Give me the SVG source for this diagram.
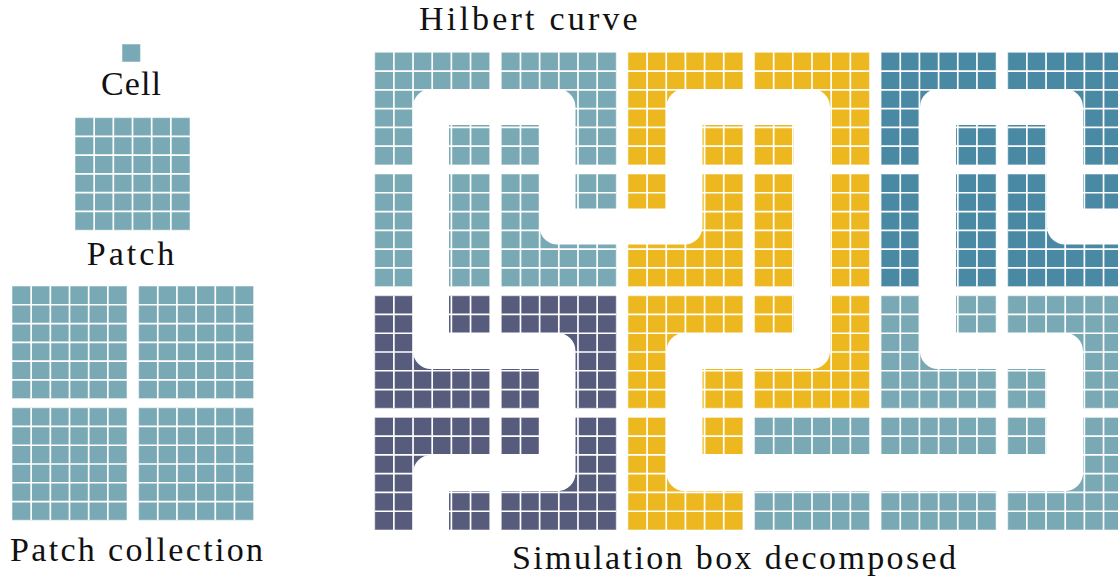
<svg xmlns="http://www.w3.org/2000/svg" width="1118" height="578" viewBox="0 0 1118 578">
  <style>
    .t { fill: #78a9b4; }
    .y { fill: #edb81f; }
    .b { fill: #4a89a3; }
    .s { fill: #575b7c; }
    .edge { stroke: #ffffff; stroke-opacity: 0.45; stroke-width: 1.2; }
    .lbl { font-family: "Liberation Serif", "Times New Roman", serif; font-size: 34px; fill: #111111; }
    .curve { fill: none; stroke: #ffffff; stroke-width: 36; stroke-linejoin: round; stroke-linecap: butt; }
  </style>
  <defs>
    <!-- 6x6 cell grid lines of one patch (115 x 112.6) -->
    <path id="grid" d="M19.17 0V112.6M38.33 0V112.6M57.5 0V112.6M76.67 0V112.6M95.83 0V112.6M0 18.77H115M0 37.53H115M0 56.3H115M0 75.07H115M0 93.83H115" stroke="#ffffff" stroke-width="1.7" fill="none"/>
  </defs>

  <rect width="1118" height="578" fill="#ffffff"/>

  <!-- single cell -->
  <g id="cell">
    <rect class="t edge" x="122" y="44" width="18.5" height="18"/>
    <text class="lbl" x="101" y="95" textLength="60" lengthAdjust="spacing">Cell</text>
  </g>

  <!-- single patch -->
  <g id="patch">
    <rect class="t edge" x="75" y="117.6" width="115" height="112.6"/>
    <use href="#grid" x="75" y="117.6"/>
    <text class="lbl" x="86.7" y="265" textLength="87.6" lengthAdjust="spacing">Patch</text>
  </g>

  <!-- collection of 2x2 patches -->
  <g id="patch-collection">
    <rect class="t edge" x="12" y="286" width="115" height="112.6"/>
    <use href="#grid" x="12" y="286"/>
    <rect class="t edge" x="138.6" y="286" width="115" height="112.6"/>
    <use href="#grid" x="138.6" y="286"/>
    <rect class="t edge" x="12" y="407.7" width="115" height="112.6"/>
    <use href="#grid" x="12" y="407.7"/>
    <rect class="t edge" x="138.6" y="407.7" width="115" height="112.6"/>
    <use href="#grid" x="138.6" y="407.7"/>
    <text class="lbl" x="10" y="561" textLength="253" lengthAdjust="spacing">Patch collection</text>
  </g>

  <!-- decomposed simulation box: 4 rows x 6 columns of patches -->
  <g id="simulation-box">
    <g id="box-r0c0"><rect class="t edge" x="374.7" y="52.3" width="115" height="112.6"/><use href="#grid" x="374.7" y="52.3"/></g>
    <g id="box-r0c1"><rect class="t edge" x="501.3" y="52.3" width="115" height="112.6"/><use href="#grid" x="501.3" y="52.3"/></g>
    <g id="box-r0c2"><rect class="y edge" x="627.9" y="52.3" width="115" height="112.6"/><use href="#grid" x="627.9" y="52.3"/></g>
    <g id="box-r0c3"><rect class="y edge" x="754.5" y="52.3" width="115" height="112.6"/><use href="#grid" x="754.5" y="52.3"/></g>
    <g id="box-r0c4"><rect class="b edge" x="881.1" y="52.3" width="115" height="112.6"/><use href="#grid" x="881.1" y="52.3"/></g>
    <g id="box-r0c5"><rect class="b edge" x="1007.7" y="52.3" width="115" height="112.6"/><use href="#grid" x="1007.7" y="52.3"/></g>

    <g id="box-r1c0"><rect class="t edge" x="374.7" y="174" width="115" height="112.6"/><use href="#grid" x="374.7" y="174"/></g>
    <g id="box-r1c1"><rect class="t edge" x="501.3" y="174" width="115" height="112.6"/><use href="#grid" x="501.3" y="174"/></g>
    <g id="box-r1c2"><rect class="y edge" x="627.9" y="174" width="115" height="112.6"/><use href="#grid" x="627.9" y="174"/></g>
    <g id="box-r1c3"><rect class="y edge" x="754.5" y="174" width="115" height="112.6"/><use href="#grid" x="754.5" y="174"/></g>
    <g id="box-r1c4"><rect class="b edge" x="881.1" y="174" width="115" height="112.6"/><use href="#grid" x="881.1" y="174"/></g>
    <g id="box-r1c5"><rect class="b edge" x="1007.7" y="174" width="115" height="112.6"/><use href="#grid" x="1007.7" y="174"/></g>

    <g id="box-r2c0"><rect class="s edge" x="374.7" y="295.7" width="115" height="112.6"/><use href="#grid" x="374.7" y="295.7"/></g>
    <g id="box-r2c1"><rect class="s edge" x="501.3" y="295.7" width="115" height="112.6"/><use href="#grid" x="501.3" y="295.7"/></g>
    <g id="box-r2c2"><rect class="y edge" x="627.9" y="295.7" width="115" height="112.6"/><use href="#grid" x="627.9" y="295.7"/></g>
    <g id="box-r2c3"><rect class="y edge" x="754.5" y="295.7" width="115" height="112.6"/><use href="#grid" x="754.5" y="295.7"/></g>
    <g id="box-r2c4"><rect class="t edge" x="881.1" y="295.7" width="115" height="112.6"/><use href="#grid" x="881.1" y="295.7"/></g>
    <g id="box-r2c5"><rect class="t edge" x="1007.7" y="295.7" width="115" height="112.6"/><use href="#grid" x="1007.7" y="295.7"/></g>

    <g id="box-r3c0"><rect class="s edge" x="374.7" y="417.4" width="115" height="112.6"/><use href="#grid" x="374.7" y="417.4"/></g>
    <g id="box-r3c1"><rect class="s edge" x="501.3" y="417.4" width="115" height="112.6"/><use href="#grid" x="501.3" y="417.4"/></g>
    <g id="box-r3c2"><rect class="y edge" x="627.9" y="417.4" width="115" height="112.6"/><use href="#grid" x="627.9" y="417.4"/></g>
    <g id="box-r3c3"><rect class="t edge" x="754.5" y="417.4" width="115" height="112.6"/><use href="#grid" x="754.5" y="417.4"/></g>
    <g id="box-r3c4"><rect class="t edge" x="881.1" y="417.4" width="115" height="112.6"/><use href="#grid" x="881.1" y="417.4"/></g>
    <g id="box-r3c5"><rect class="t edge" x="1007.7" y="417.4" width="115" height="112.6"/><use href="#grid" x="1007.7" y="417.4"/></g>
  </g>

  <!-- Hilbert curve through the patch centres -->
  <g id="connectors">
    <path id="hilbert-curve" class="curve" d="M431 545 V473 H557.5 V351 H431 V107 H557.5 V226.5 H684.5 V107 H812 V351 H684.5 V473 H1065 V351 H938 V107 H1065 V226.5 H1130"/>
  </g>

  <g id="labels">
    <text class="lbl" x="419" y="30" textLength="218.7" lengthAdjust="spacing">Hilbert curve</text>
    <text class="lbl" x="512" y="569" textLength="444" lengthAdjust="spacing">Simulation box decomposed</text>
  </g>
</svg>
